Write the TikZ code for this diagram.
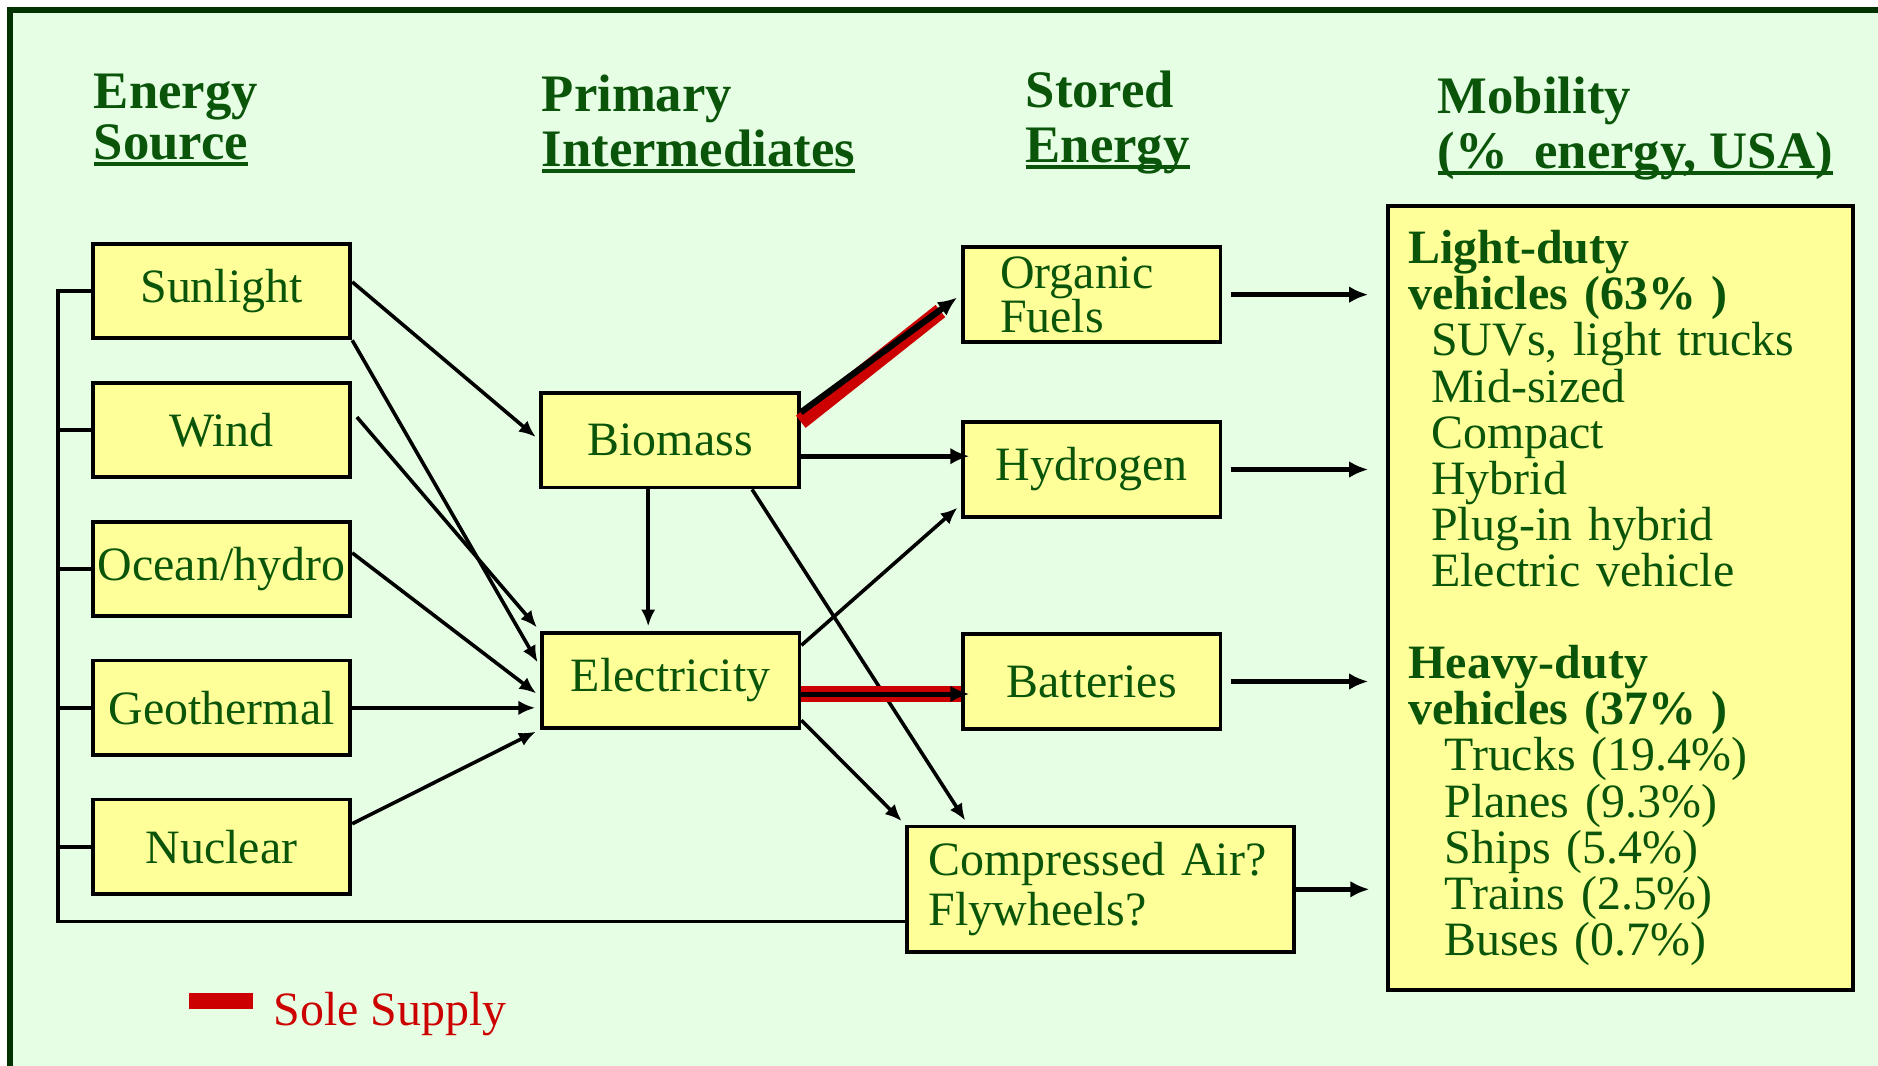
\documentclass[tikz,border=0pt]{standalone}
\usepackage{fontspec}
\setmainfont{Liberation Serif}
\usetikzlibrary{arrows.meta}
\definecolor{PaleGreen}{RGB}{230,255,228}
\definecolor{FrameGreen}{RGB}{0,51,0}
\definecolor{BoxYellow}{RGB}{255,255,153}
\definecolor{TextGreen}{RGB}{10,85,10}
\definecolor{SoleRed}{RGB}{204,0,0}
\newcommand\headunder[1]{\setbox0\hbox{#1}\rlap{\rule[-2.7pt]{\wd0}{1.7pt}}\box0}

\begin{document}
\begin{tikzpicture}[x=0.5pt,y=-0.5pt,
  box/.style={draw,line width=1.6pt,fill=BoxYellow,text=TextGreen,
    minimum width=107.5pt,minimum height=39.5pt,inner sep=2pt,
    font=\fontsize{20}{19.25}\selectfont},
  heading/.style={anchor=base west,align=left,inner sep=0pt,text=TextGreen,
    font=\fontsize{22}{23}\selectfont\bfseries},
  link/.style={-{Latex[length=7pt,width=6pt]},line width=1.5pt,shorten >=2pt},
  feed/.style={-{Latex[length=8pt,width=7pt]},line width=2.1pt},
  sole/.style={SoleRed,line width=6.5pt},
  bus/.style={line width=1.5pt}]
  % frame
  \fill[white] (0,0) rectangle (1568,890);
  \useasboundingbox (0,0) rectangle (1568,890);
  \fill[PaleGreen] (6,6) rectangle (1568,890);
  \draw[FrameGreen,line width=2.5pt] (8.5,890) -- (8.5,8.5) -- (1568,8.5);
  % column headings (placed at the baseline of the underlined line)
  \node[heading] (hsrc) at (78,133) {Energy\\[-2pt]\headunder{Source}};
  \node[heading] (hpri) at (452,139) {Primary\\\headunder{Intermediates}};
  \node[heading] (hsto) at (856,136) {Stored\\\headunder{Energy}};
  \node[heading] (hmob) at (1200,140.5) {Mobility\\\headunder{(\%\ \ energy, USA)}};
  % energy sources
  \node[box] (sun) at (185,243) {Sunlight};
  \node[box] (wind) at (185,359) {Wind};
  \node[box] (ocean) at (185,475) {Ocean/hydro};
  \node[box] (geo) at (185,591) {Geothermal};
  \node[box] (nuc) at (185,707) {Nuclear};
  % intermediates
  \node[box] (bio) at (559.5,367.5) {Biomass};
  \node[box] (ele) at (560,568) {Electricity};
  % stored energy
  \node[box,align=left,text width=76.5pt,inner xsep=15.5pt,
    font=\fontsize{20}{18.5}\selectfont] (org) at (911.5,246) {Organic\\Fuels};
  \node[box] (hyd) at (911.5,392) {Hydrogen};
  \node[box] (bat) at (911.5,569) {Batteries};
  \node[box,align=left,text width=143.7pt,inner xsep=9pt,minimum height=52.5pt,
    font=\fontsize{20}{21}\selectfont] (cmp) at (919,742.5) {Compressed Air?\\Flywheels?};
  % mobility
  \node[box,align=left,text width=177pt,inner xsep=8.5pt,minimum height=327.3pt]
    (mob) at (1353,499.3) {%
    \textbf{Light-duty}\\
    \textbf{vehicles (63\% )}\\
    \hspace*{9.5pt}SUVs, light trucks\\
    \hspace*{9.5pt}Mid-sized\\
    \hspace*{9.5pt}Compact\\
    \hspace*{9.5pt}Hybrid\\
    \hspace*{9.5pt}Plug-in hybrid\\
    \hspace*{9.5pt}Electric vehicle\\[19.25pt]
    \textbf{Heavy-duty}\\
    \textbf{vehicles (37\% )}\\
    \hspace*{15pt}Trucks (19.4\%)\\
    \hspace*{15pt}Planes (9.3\%)\\
    \hspace*{15pt}Ships (5.4\%)\\
    \hspace*{15pt}Trains (2.5\%)\\
    \hspace*{15pt}Buses (0.7\%)};
  % common feed line on the left
  \coordinate (busbot) at (48.5,769.5);
  \draw[bus] (sun.west) -| (busbot) -- (busbot -| cmp.west);
  \foreach \n in {wind,ocean,geo,nuc}
    \draw[bus] (\n.west) -- (\n.west -| busbot);
  % sources to intermediates
  \draw[link] (sun.4) -- (bio.west);
  \draw[link] (sun.south east) -- (ele.174);
  \draw[link,shorten <=3pt] (wind.8) -- (ele.north west);
  \draw[link] (ocean.7) -- (ele.187);
  \draw[link] (geo.east) -- (geo.east -| ele.west);
  \draw[link] (nuc.10) -- (ele.south west);
  % intermediates to storage
  \draw[sole,shorten >=11pt] (bio.8) -- (org.west);
  \draw[-{Latex[length=8pt,width=7pt]},line width=2.6pt,shorten >=2pt] (bio.12) -- (org.west);
  \draw[feed,shorten >=-3.5pt] (bio.-7) -- (bio.-7 -| hyd.west);
  \draw[link] (bio.246) -- (bio.246 |- ele.north);
  \draw[link] (bio.-31) -- (cmp.154);
  \draw[link] (ele.15) -- (hyd.195);
  \draw[sole] (ele.-6) -- (ele.-6 -| bat.west);
  \draw[feed,shorten >=-3.5pt] (ele.-6) -- (ele.-6 -| bat.west);
  \draw[link] (ele.-17) -- (cmp.north west);
  % storage to mobility
  \foreach \n in {org,hyd,bat}
    \draw[feed,shorten <=3.5pt,shorten >=7.5pt] (\n.east) -- (\n.east -| mob.west);
  \draw[feed,shorten >=7pt] (cmp.east) -- (cmp.east -| mob.west);
  % legend
  \fill[SoleRed] (158,829) rectangle (211,842.5);
  \node[anchor=base west,inner sep=0pt,text=SoleRed,font=\fontsize{20}{24}\selectfont]
    (legend) at (228,856) {Sole Supply};
\end{tikzpicture}
\end{document}
